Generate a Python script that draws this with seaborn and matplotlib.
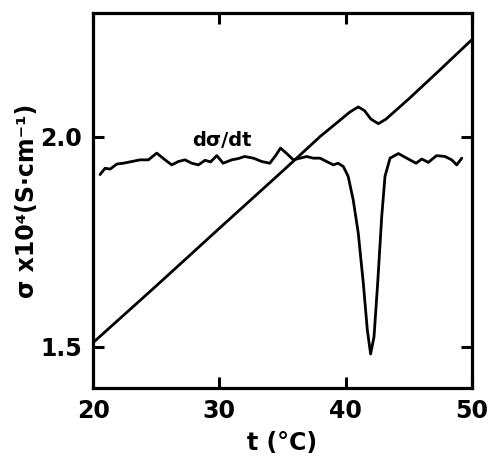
import numpy as np
import pandas as pd
import matplotlib.pyplot as plt
import seaborn as sns

# --- data ------------------------------------------------------------------

# conductivity sigma x 1e4 (S/cm) vs temperature
sigma_t = [20.0, 25.0, 30.0, 35.0, 38.0, 39.5, 40.3, 41.0, 41.5, 42.0, 42.6, 43.2, 45.0, 47.5, 50.0]
sigma_v = [1.510, 1.645, 1.782, 1.918, 2.001, 2.038, 2.058, 2.071, 2.062, 2.042, 2.031, 2.042, 2.090, 2.160, 2.231]

# derivative trace (arbitrary units, drawn on the same axes)
deriv_t = [20.55, 20.95, 21.35, 21.88, 22.4, 23.06, 23.72, 24.38, 25.04, 25.7,
           26.23, 26.75, 27.28, 27.81, 28.34, 28.87, 29.3, 29.8, 30.3, 30.98,
           31.5, 32.0, 32.7, 33.36, 34.0, 34.5, 34.84, 35.3, 35.86, 36.39,
           36.92, 37.44, 37.97, 38.5, 39.03, 39.4, 39.82, 40.2, 40.6, 41.0,
           41.4, 41.72, 41.98, 42.25, 42.54, 42.86, 43.12, 43.52, 44.18, 44.84,
           45.58, 46.03, 46.55, 47.2, 47.87, 48.4, 48.8, 49.2]
deriv_v = [1.910, 1.925, 1.923, 1.935, 1.937, 1.941, 1.945, 1.945, 1.961, 1.945,
           1.933, 1.941, 1.945, 1.937, 1.933, 1.944, 1.940, 1.955, 1.937, 1.945,
           1.948, 1.953, 1.949, 1.941, 1.937, 1.957, 1.973, 1.961, 1.945, 1.949,
           1.953, 1.949, 1.949, 1.941, 1.933, 1.937, 1.929, 1.906, 1.850, 1.771,
           1.652, 1.540, 1.483, 1.524, 1.652, 1.810, 1.906, 1.949, 1.960, 1.949,
           1.937, 1.947, 1.939, 1.955, 1.953, 1.945, 1.933, 1.949]

x_ticks = [20, 30, 40, 50]
y_ticks = [1.5, 2.0]

sigma_df = pd.DataFrame({"t": sigma_t, "sigma": sigma_v})
deriv_df = pd.DataFrame({"t": deriv_t, "sigma": deriv_v})

sns.set_style("ticks")
plt.rcParams["font.family"] = ["DejaVu Sans"]
plt.rcParams["font.weight"] = "bold"
plt.rcParams["text.color"] = "black"
plt.rcParams["axes.labelcolor"] = "black"

fig = plt.figure(figsize=(4.9, 4.57), dpi=100)
ax = fig.add_axes([0.190, 0.151, 0.773, 0.821])

sns.lineplot(data=sigma_df, x="t", y="sigma", ax=ax, color="black",
             linewidth=2.0, estimator=None, sort=False)
sns.lineplot(data=deriv_df, x="t", y="sigma", ax=ax, color="black",
             linewidth=2.0, estimator=None, sort=False)

ax.text(30.2, 1.99, "dσ/dt", fontsize=14, fontweight="bold", color="black",
        ha="center", va="center")

ax.set_xlim(20, 50)
ax.set_ylim(1.402, 2.295)
ax.set_xticks(x_ticks)
ax.set_xticklabels([str(v) for v in x_ticks])
ax.set_yticks(y_ticks)
ax.set_yticklabels(["1.5", "2.0"])
ax.tick_params(direction="in", length=8, width=2.2, top=True, right=True,
               labelsize=17, pad=8, colors="black")
for s in ax.spines.values():
    s.set_linewidth(2.3)
    s.set_color("black")

ax.set_xlabel("t (°C)", fontsize=17, fontweight="bold", color="black", labelpad=6)
ax.set_ylabel("σ x10⁴(S·cm⁻¹)", fontsize=17, fontweight="bold", color="black", labelpad=1)

fig.savefig("out.png", dpi=100)
